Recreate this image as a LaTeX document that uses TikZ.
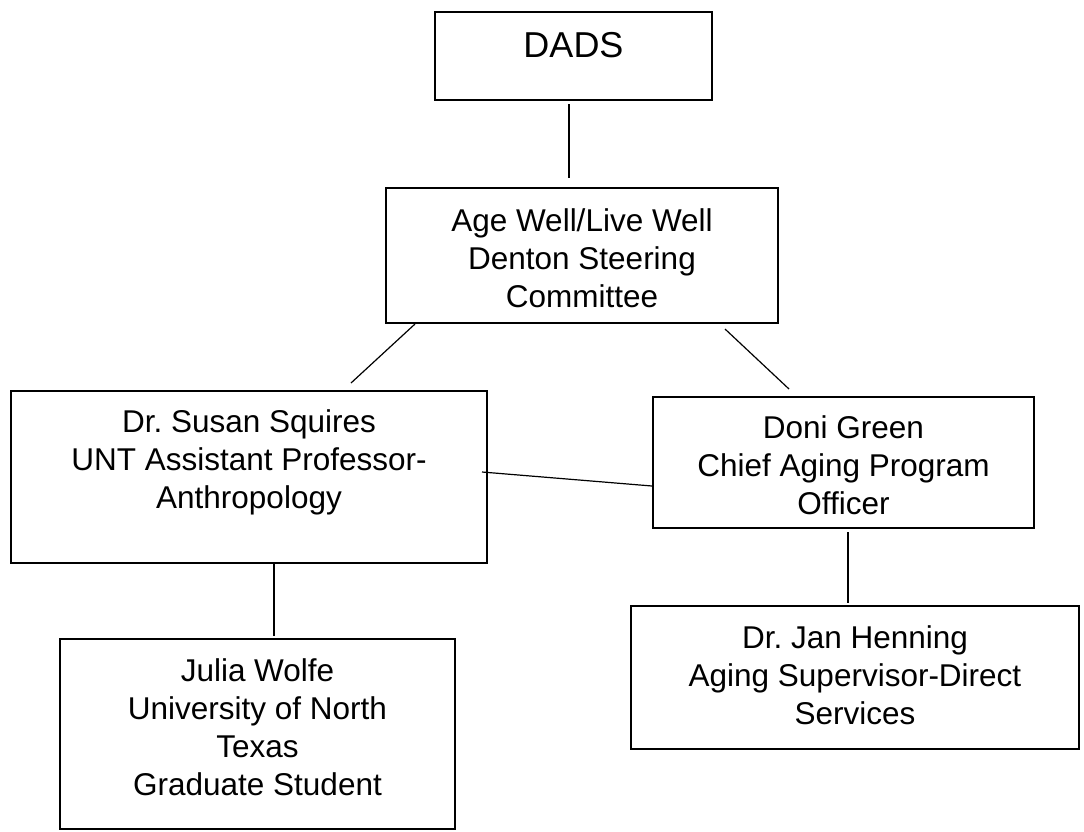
\documentclass[tikz,border=0pt]{standalone}
\usepackage{fontspec}
\setmainfont{Liberation Sans}
\frenchspacing
\begin{document}
\begin{tikzpicture}[x=1pt,y=-1pt,
  box/.style={draw=black, line width=1.6pt, rectangle, inner sep=0pt},
  txt/.style={anchor=north, align=center, inner sep=0pt, font=\fontsize{31.5}{38}\selectfont},
  conn/.style={draw=black, line width=1.2pt}]
\useasboundingbox (0,0) rectangle (1084,831);
% boxes
\node[box, minimum width=277pt, minimum height=88pt] (dads) at (573.5,56) {};
\node[box, minimum width=392pt, minimum height=135pt] (age) at (582,255.5) {};
\node[box, minimum width=476pt, minimum height=172pt] (susan) at (249,477) {};
\node[box, minimum width=381pt, minimum height=131pt] (doni) at (843.5,462.5) {};
\node[box, minimum width=448pt, minimum height=143pt] (jan) at (855,677.5) {};
\node[box, minimum width=395pt, minimum height=190pt] (julia) at (257.5,734) {};
% texts
\node[txt, font=\fontsize{36}{42}\selectfont] (dadsT) at (573.5,32) {DADS};
\node[txt] (ageT) at (582,208) {Age Well/Live Well\\Denton Steering\\Committee};
\node[txt] (susanT) at (249,409) {Dr. Susan Squires\\UNT Assistant Professor-\\Anthropology};
\node[txt] (doniT) at (843.5,415) {Doni Green\\Chief Aging Program\\Officer};
\node[txt] (janT) at (855,625) {Dr. Jan Henning\\Aging Supervisor-Direct\\Services};
\node[txt] (juliaT) at (257.5,658) {Julia Wolfe\\University of North\\Texas\\Graduate Student};
% connector end points
\coordinate (c1a) at (569,104);
\coordinate (c1b) at (569,178);
\coordinate (c2a) at (415,324);
\coordinate (c2b) at (351,383);
\coordinate (c3a) at (725,329);
\coordinate (c3b) at (789,389);
\coordinate (c4a) at (482,472);
\coordinate (c4b) at (652,486);
\coordinate (c5a) at (274,563);
\coordinate (c5b) at (274,636);
\coordinate (c6a) at (848,532);
\coordinate (c6b) at (848,603);
\draw[conn] (c1a) -- (c1b);
\draw[conn] (c2a) -- (c2b);
\draw[conn] (c3a) -- (c3b);
\draw[conn] (c4a) -- (c4b);
\draw[conn] (c5a) -- (c5b);
\draw[conn] (c6a) -- (c6b);
\end{tikzpicture}
\end{document}
